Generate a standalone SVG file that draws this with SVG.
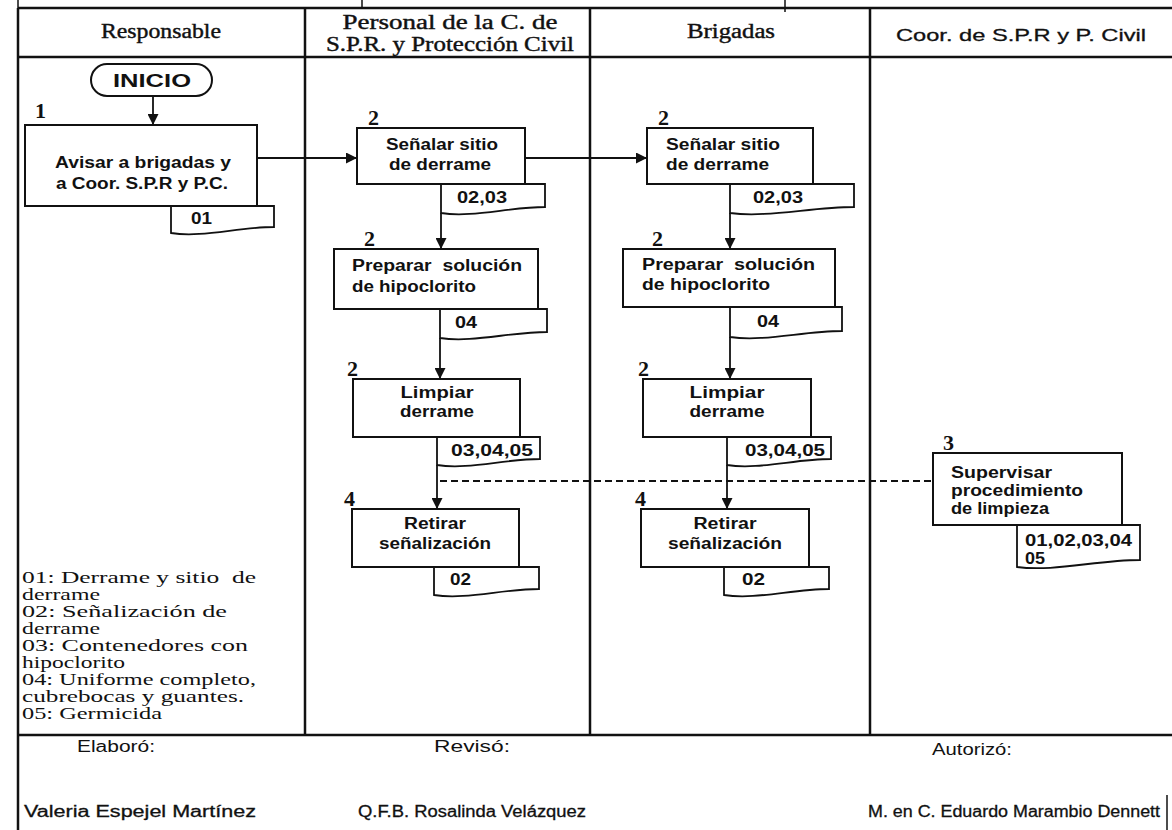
<svg xmlns="http://www.w3.org/2000/svg" width="1172" height="830" viewBox="0 0 1172 830">
<defs>
<style>
.frame{stroke:#111;stroke-width:2.5;fill:none}
.thin{stroke:#111;stroke-width:1.5;fill:none}
.box{fill:#fff;stroke:#111;stroke-width:2}
.doc{fill:#fff;stroke:#111;stroke-width:1.8}
.con{stroke:#111;stroke-width:1.8;fill:none}
.dash{stroke:#111;stroke-width:1.8;fill:none;stroke-dasharray:7,4}
.hs{font-family:"Liberation Serif",serif;font-size:20px;fill:#111;stroke:#111;stroke-width:0.4}
.hsans{font-family:"Liberation Sans",sans-serif;font-size:17px;fill:#111;stroke:#111;stroke-width:0.3}
.t{font-family:"Liberation Sans",sans-serif;font-size:16px;font-weight:bold;fill:#111}
.num{font-family:"Liberation Serif",serif;font-size:22px;font-weight:bold;fill:#111}
.leg{font-family:"Liberation Serif",serif;font-size:17px;fill:#111}
.ft{font-family:"Liberation Sans",sans-serif;font-size:16px;fill:#111}
.fn{font-family:"Liberation Sans",sans-serif;font-size:16px;fill:#111;stroke:#111;stroke-width:0.3}
</style>
<marker id="ah" viewBox="0 0 10 10" refX="10" refY="5" markerWidth="11" markerHeight="11" markerUnits="userSpaceOnUse" orient="auto">
<path d="M0,0 L10,5 L0,10 Z" fill="#111"/>
</marker>
<clipPath id="clipJ"><path d="M1017,525 H1140 V560 C1097,560 1054,572 1017,567 Z"/></clipPath>
</defs>
<rect width="1172" height="830" fill="#fff"/>

<g id="frame">
<line class="thin" x1="18" y1="0" x2="18" y2="8"/>
<line class="thin" x1="362" y1="0" x2="362" y2="8"/>
<line class="thin" x1="785" y1="0" x2="785" y2="12"/>
<line class="frame" x1="18" y1="8" x2="1172" y2="8"/>
<line class="frame" x1="18" y1="57" x2="1172" y2="57"/>
<line class="frame" x1="18" y1="8" x2="18" y2="830"/>
<line class="frame" x1="305" y1="8" x2="305" y2="735"/>
<line class="frame" x1="590" y1="8" x2="590" y2="735"/>
<line class="frame" x1="870" y1="8" x2="870" y2="735"/>
<line class="frame" x1="18" y1="735" x2="1172" y2="735"/>
<line class="thin" x1="1167" y1="795" x2="1167" y2="830"/>
</g>

<g id="headers">
<text class="hs" x="161" y="38" text-anchor="middle" textLength="120" lengthAdjust="spacingAndGlyphs">Responsable</text>
<text class="hs" x="450" y="29" text-anchor="middle" textLength="215" lengthAdjust="spacingAndGlyphs">Personal de la C. de</text>
<text class="hs" x="450" y="51" text-anchor="middle" textLength="248" lengthAdjust="spacingAndGlyphs">S.P.R. y Protección Civil</text>
<text class="hs" x="731" y="38" text-anchor="middle" textLength="88" lengthAdjust="spacingAndGlyphs">Brigadas</text>
<text class="hsans" x="1021" y="41" text-anchor="middle" textLength="250" lengthAdjust="spacingAndGlyphs">Coor. de S.P.R y P. Civil</text>
</g>

<g id="connectors">
<path class="con" d="M153,96 V125" marker-end="url(#ah)"/>
<path class="con" d="M257,158 H357" marker-end="url(#ah)"/>
<path class="con" d="M525,158 H647" marker-end="url(#ah)"/>
<path class="con" d="M441,213 V249" marker-end="url(#ah)"/>
<path class="con" d="M440,338 V379" marker-end="url(#ah)"/>
<path class="con" d="M437,465 V509" marker-end="url(#ah)"/>
<path class="con" d="M730,213 V249" marker-end="url(#ah)"/>
<path class="con" d="M730,337 V379" marker-end="url(#ah)"/>
<path class="con" d="M727,465 V509" marker-end="url(#ah)"/>
<path class="dash" d="M440,481 H933"/>
</g>

<g id="inicio">
<rect class="box" x="91" y="64" width="121" height="32" rx="16" ry="16" stroke-width="2.5"/>
<text x="152" y="87" text-anchor="middle" font-family="Liberation Sans, sans-serif" font-size="18" font-weight="bold" fill="#111" textLength="78" lengthAdjust="spacingAndGlyphs">INICIO</text>
</g>

<g id="n1">
<text class="num" x="35" y="118">1</text>
<rect class="box" x="25" y="125" width="232" height="81"/>
<text class="t" x="143" y="168" text-anchor="middle" textLength="176" lengthAdjust="spacingAndGlyphs">Avisar a brigadas y</text>
<text class="t" x="142" y="189" text-anchor="middle" textLength="172" lengthAdjust="spacingAndGlyphs">a Coor. S.P.R y P.C.</text>
<path class="doc" d="M171,206 H274 V227 C238,227 202,238 171,233 Z"/>
<text class="t" x="191" y="224" textLength="21" lengthAdjust="spacingAndGlyphs">01</text>
</g>

<g id="n2a">
<text class="num" x="368" y="125">2</text>
<rect class="box" x="357" y="128" width="168" height="56"/>
<text class="t" x="386" y="150" textLength="112" lengthAdjust="spacingAndGlyphs">Señalar sitio</text>
<text class="t" x="389" y="170" textLength="102" lengthAdjust="spacingAndGlyphs">de derrame</text>
<path class="doc" d="M441,184 H545 V207 C509,207 472,218 441,213 Z"/>
<text class="t" x="457" y="203" textLength="50" lengthAdjust="spacingAndGlyphs">02,03</text>
</g>

<g id="n2b">
<text class="num" x="364" y="246">2</text>
<rect class="box" x="334" y="249" width="204" height="60"/>
<text class="t" x="352" y="271" textLength="170" lengthAdjust="spacingAndGlyphs" xml:space="preserve">Preparar  solución</text>
<text class="t" x="352" y="292" textLength="124" lengthAdjust="spacingAndGlyphs">de hipoclorito</text>
<path class="doc" d="M440,309 H547 V332 C510,332 472,343 440,338 Z"/>
<text class="t" x="455" y="328" textLength="22" lengthAdjust="spacingAndGlyphs">04</text>
</g>

<g id="n2c">
<text class="num" x="347" y="376">2</text>
<rect class="box" x="353" y="379" width="167" height="58"/>
<text class="t" x="437" y="398" text-anchor="middle" textLength="73" lengthAdjust="spacingAndGlyphs">Limpiar</text>
<text class="t" x="437" y="417" text-anchor="middle" textLength="74" lengthAdjust="spacingAndGlyphs">derrame</text>
<path class="doc" d="M437,437 H540 V459 C504,459 468,470 437,465 Z"/>
<text class="t" x="451" y="456" textLength="82" lengthAdjust="spacingAndGlyphs">03,04,05</text>
</g>

<g id="n2d">
<text class="num" x="344" y="506">4</text>
<rect class="box" x="352" y="509" width="167" height="58"/>
<text class="t" x="435" y="529" text-anchor="middle" textLength="62" lengthAdjust="spacingAndGlyphs">Retirar</text>
<text class="t" x="435" y="549" text-anchor="middle" textLength="112" lengthAdjust="spacingAndGlyphs">señalización</text>
<path class="doc" d="M434,567 H539 V589 C502,589 466,600 434,595 Z"/>
<text class="t" x="450" y="585" textLength="21" lengthAdjust="spacingAndGlyphs">02</text>
</g>

<g id="n3a">
<text class="num" x="658" y="125">2</text>
<rect class="box" x="647" y="128" width="166" height="56"/>
<text class="t" x="666" y="150" textLength="114" lengthAdjust="spacingAndGlyphs">Señalar sitio</text>
<text class="t" x="666" y="170" textLength="103" lengthAdjust="spacingAndGlyphs">de derrame</text>
<path class="doc" d="M730,184 H854 V207 C811,207 767,218 730,213 Z"/>
<text class="t" x="753" y="203" textLength="50" lengthAdjust="spacingAndGlyphs">02,03</text>
</g>

<g id="n3b">
<text class="num" x="652" y="246">2</text>
<rect class="box" x="623" y="249" width="212" height="58"/>
<text class="t" x="642" y="270" textLength="173" lengthAdjust="spacingAndGlyphs" xml:space="preserve">Preparar  solución</text>
<text class="t" x="642" y="290" textLength="128" lengthAdjust="spacingAndGlyphs">de hipoclorito</text>
<path class="doc" d="M730,307 H842 V331 C803,331 764,342 730,337 Z"/>
<text class="t" x="757" y="327" textLength="22" lengthAdjust="spacingAndGlyphs">04</text>
</g>

<g id="n3c">
<text class="num" x="638" y="376">2</text>
<rect class="box" x="643" y="379" width="168" height="58"/>
<text class="t" x="727" y="398" text-anchor="middle" textLength="75" lengthAdjust="spacingAndGlyphs">Limpiar</text>
<text class="t" x="727" y="417" text-anchor="middle" textLength="75" lengthAdjust="spacingAndGlyphs">derrame</text>
<path class="doc" d="M727,437 H831 V459 C795,459 758,470 727,465 Z"/>
<text class="t" x="745" y="456" textLength="80" lengthAdjust="spacingAndGlyphs">03,04,05</text>
</g>

<g id="n3d">
<text class="num" x="635" y="506">4</text>
<rect class="box" x="641" y="509" width="168" height="58"/>
<text class="t" x="725" y="529" text-anchor="middle" textLength="63" lengthAdjust="spacingAndGlyphs">Retirar</text>
<text class="t" x="725" y="549" text-anchor="middle" textLength="114" lengthAdjust="spacingAndGlyphs">señalización</text>
<path class="doc" d="M724,567 H829 V589 C792,589 756,600 724,595 Z"/>
<text class="t" x="742" y="585" textLength="23" lengthAdjust="spacingAndGlyphs">02</text>
</g>

<g id="n4">
<text class="num" x="943" y="450">3</text>
<rect class="box" x="933" y="453" width="189" height="72"/>
<text class="t" x="951" y="478" textLength="101" lengthAdjust="spacingAndGlyphs">Supervisar</text>
<text class="t" x="951" y="496" textLength="132" lengthAdjust="spacingAndGlyphs">procedimiento</text>
<text class="t" x="951" y="514" textLength="98" lengthAdjust="spacingAndGlyphs">de limpieza</text>
<path class="doc" d="M1017,525 H1140 V560 C1097,560 1054,572 1017,567 Z"/>
<text class="t" x="1025" y="546" textLength="107" lengthAdjust="spacingAndGlyphs">01,02,03,04</text>
<text class="t" x="1025" y="564" textLength="20" lengthAdjust="spacingAndGlyphs" clip-path="url(#clipJ)">05</text>
</g>

<g id="legend">
<text class="leg" x="22" y="583" textLength="234" lengthAdjust="spacingAndGlyphs" xml:space="preserve">01: Derrame y sitio  de</text>
<text class="leg" x="22" y="600" textLength="78" lengthAdjust="spacingAndGlyphs">derrame</text>
<text class="leg" x="22" y="617" textLength="205" lengthAdjust="spacingAndGlyphs">02: Señalización de</text>
<text class="leg" x="22" y="634" textLength="78" lengthAdjust="spacingAndGlyphs">derrame</text>
<text class="leg" x="22" y="651" textLength="226" lengthAdjust="spacingAndGlyphs">03: Contenedores con</text>
<text class="leg" x="22" y="668" textLength="103" lengthAdjust="spacingAndGlyphs">hipoclorito</text>
<text class="leg" x="22" y="685" textLength="234" lengthAdjust="spacingAndGlyphs">04: Uniforme completo,</text>
<text class="leg" x="22" y="702" textLength="222" lengthAdjust="spacingAndGlyphs">cubrebocas y guantes.</text>
<text class="leg" x="22" y="719" textLength="140" lengthAdjust="spacingAndGlyphs">05: Germicida</text>
</g>

<g id="footer">
<text class="ft" x="116" y="752" text-anchor="middle" textLength="78" lengthAdjust="spacingAndGlyphs">Elaboró:</text>
<text class="ft" x="472" y="752" text-anchor="middle" textLength="76" lengthAdjust="spacingAndGlyphs">Revisó:</text>
<text class="ft" x="972" y="755" text-anchor="middle" textLength="80" lengthAdjust="spacingAndGlyphs">Autorizó:</text>
<text class="fn" x="140" y="817" text-anchor="middle" textLength="232" lengthAdjust="spacingAndGlyphs">Valeria Espejel Martínez</text>
<text class="fn" x="472" y="817" text-anchor="middle" textLength="228" lengthAdjust="spacingAndGlyphs">Q.F.B. Rosalinda Velázquez</text>
<text class="fn" x="1014" y="817" text-anchor="middle" textLength="292" lengthAdjust="spacingAndGlyphs">M. en C. Eduardo Marambio Dennett</text>
</g>
</svg>
